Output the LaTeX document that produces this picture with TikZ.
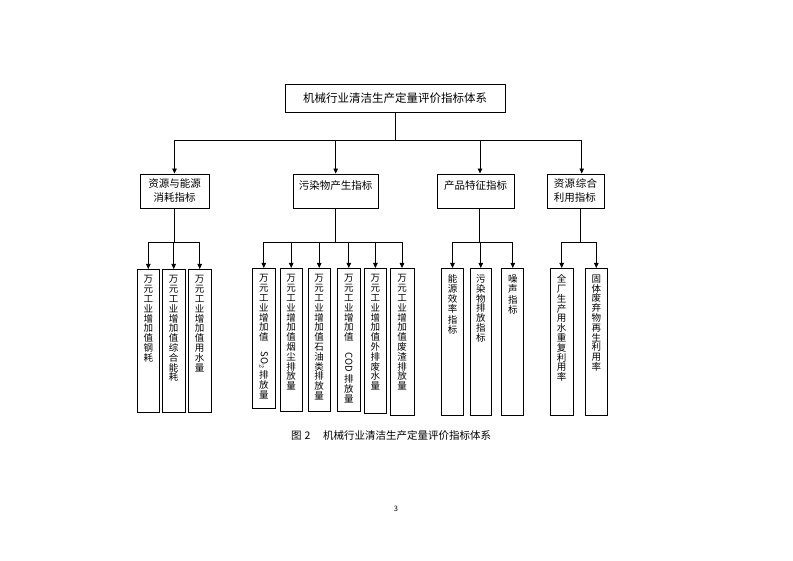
\documentclass[tikz,border=0pt]{standalone}
\usepackage{fontspec}
\usepackage{graphicx}
\setmainfont{Noto Sans CJK SC}
\usetikzlibrary{arrows.meta}
\newcommand\mkcol[5]{%
  \node[col, minimum width=#3, minimum height=#4] (#1) at (#2) {};
  \node[coltext] (#1t) at ([yshift=-6.5pt]#1.north) {#5};}
\begin{document}
\begin{tikzpicture}[x=1pt,y=-1pt,
  box/.style={draw, line width=0.9pt, inner sep=0pt},
  col/.style={draw, line width=0.9pt, inner sep=0pt, anchor=north},
  coltext/.style={anchor=north, inner sep=0pt, align=center, font=\fontsize{9.5}{9.8}\selectfont},
  conn/.style={line width=0.8pt},
  arr/.style={line width=0.8pt, -{Triangle[length=5pt,width=4.5pt]}},
]
\useasboundingbox (0,0) rectangle (793,561);
% top
\node[box, minimum width=220pt, minimum height=28pt, font=\fontsize{11.5}{12}\selectfont] (top) at (395,98) {机械行业清洁生产定量评价指标体系};
% level 2
\node[box, minimum width=69pt, minimum height=34pt, align=center, font=\fontsize{10.5}{14}\selectfont] (A) at (174.5,191) {资源与能源\\消耗指标};
\node[box, minimum width=85pt, minimum height=34pt, font=\fontsize{10.5}{14}\selectfont, text depth=11pt] (B) at (335.7,191) {污染物产生指标};
\node[box, minimum width=77pt, minimum height=34pt, font=\fontsize{10.5}{14}\selectfont, text depth=11pt] (C) at (475.5,191) {产品特征指标};
\node[box, minimum width=57pt, minimum height=34pt, align=left, font=\fontsize{10.5}{14}\selectfont] (D) at (575.5,191) {资\hspace{0.5pt}源\hspace{0.5pt}综\hspace{0.5pt}合\\利用指标};
% level 1 connectors
\draw[conn] (top.south) -- ++(0,27.5) coordinate (j1);
\draw[arr] (j1) -| (A.north);
\draw[arr] (j1) -| (B.north);
\draw[arr] (j1) -| ([xshift=4.5pt]C.north);
\draw[arr] (j1) -| ([xshift=6.2pt]D.north);
% level 3 columns
\mkcol{a1}{148.3,269}{22pt}{143pt}{万\\元\\工\\业\\增\\加\\值\\钢\\耗}
\mkcol{a2}{173.7,269}{22.5pt}{143pt}{万\\元\\工\\业\\增\\加\\值\\综\\合\\能\\耗}
\mkcol{a3}{199.7,269}{22.5pt}{143pt}{万\\元\\工\\业\\增\\加\\值\\用\\水\\量}
\mkcol{b1}{263.8,268}{22.5pt}{140pt}{万\\元\\工\\业\\增\\加\\值\\[1pt]\rotatebox{-90}{SO$_2$}\\[1pt]排\\放\\量}
\mkcol{b2}{291.2,268}{22.5pt}{143pt}{万\\元\\工\\业\\增\\加\\值\\烟\\尘\\排\\放\\量}
\mkcol{b3}{319.2,268}{22.5pt}{143pt}{万\\元\\工\\业\\增\\加\\值\\石\\油\\类\\排\\放\\量}
\mkcol{b4}{348.8,268}{22.5pt}{143pt}{万\\元\\工\\业\\增\\加\\值\\[2pt]\rotatebox{-90}{COD}\\[2pt]排\\放\\量}
\mkcol{b5}{375.4,268}{22.5pt}{145pt}{万\\元\\工\\业\\增\\加\\值\\外\\排\\废\\水\\量}
\mkcol{b6}{402,268}{24pt}{147pt}{万\\元\\工\\业\\增\\加\\值\\废\\渣\\排\\放\\量}
\mkcol{c1}{452.5,268}{21.5pt}{147pt}{能\\源\\效\\率\\[2pt]指\\标}
\mkcol{c2}{480.8,268}{21.5pt}{147pt}{污\\染\\物\\排\\放\\指\\标}
\mkcol{c3}{512.8,268}{22pt}{147pt}{噪\\声\\[2pt]指\\标}
\mkcol{d1}{561.7,268}{23pt}{147pt}{全\\厂\\生\\产\\用\\水\\重\\复\\利\\用\\率}
\mkcol{d2}{596.3,268}{22.5pt}{147pt}{固\\体\\废\\弃\\物\\再\\生\\利\\用\\率}
% level 2 -> 3 connectors
\draw[conn] (A.south) -- ++(0,33.7) coordinate (ja);
\foreach \n in {a1,a2,a3} \draw[arr] (ja) -| (\n.north);
\draw[conn] (B.south) -- ++(0,33.7) coordinate (jb);
\foreach \n in {b1,b2,b3,b4,b5,b6} \draw[arr] (jb) -| (\n.north);
\draw[conn] ([xshift=4pt]C.south) -- ++(0,33.7) coordinate (jc);
\foreach \n in {c1,c2,c3} \draw[arr] (jc) -| (\n.north);
\draw[conn] ([xshift=4.5pt]D.south) -- ++(0,33.7) coordinate (jd);
\foreach \n in {d1,d2} \draw[arr] (jd) -| (\n.north);
% caption
\node[anchor=west, inner sep=0pt, font=\fontsize{10.5}{12}\selectfont] (cap) at (291,436) {图\hspace{3pt}2\hspace{1.2em}机械行业清洁生产定量评价指标体系};
\node[inner sep=0pt, font=\fontsize{7.5}{9}\selectfont] (pg) at (396,509) {3};
\end{tikzpicture}
\end{document}
